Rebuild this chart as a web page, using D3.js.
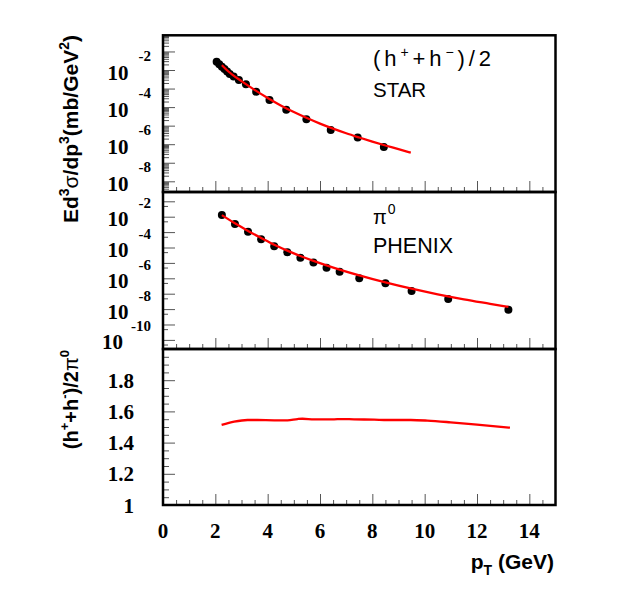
<!DOCTYPE html>
<html><head><meta charset="utf-8">
<script src="https://cdn.jsdelivr.net/npm/d3@7"></script>
<style>body{margin:0;background:#fff}</style>
</head><body>
<svg id="c" width="623" height="602"></svg>
<script>
// ---- data ----
const starPt  = [2.05, 2.15, 2.25, 2.35, 2.45, 2.55, 2.70, 2.90, 3.17, 3.56, 4.07, 4.71, 5.48, 6.41, 7.44, 8.44];
const starVal = [2.8e-2, 2.05e-2, 1.52e-2, 1.12e-2, 8.3e-3, 6.1e-3, 4.5e-3, 2.9e-3, 1.7e-3, 6.8e-4, 2.4e-4, 7.2e-5, 2.2e-5, 5.8e-6, 2.3e-6, 7.1e-7];
const starFitPt  = [2.25, 2.5, 3.0, 3.5, 4.0, 4.5, 5.0, 5.5, 6.0, 6.5, 7.0, 7.5, 8.0, 8.5, 9.0, 9.47];
const starFitVal = [1.82e-2, 8.3e-3, 2.51e-3, 8.5e-4, 3.1e-4, 1.23e-4, 5.4e-5, 2.57e-5, 1.29e-5, 6.9e-6, 3.9e-6, 2.3e-6, 1.38e-6, 8.5e-7, 5.4e-7, 3.5e-7];
const phenixPt  = [2.25, 2.75, 3.25, 3.75, 4.25, 4.75, 5.25, 5.75, 6.25, 6.75, 7.5, 8.5, 9.5, 10.9, 13.2];
const phenixVal = [1.29e-2, 3.4e-3, 1.07e-3, 3.4e-4, 1.2e-4, 4.9e-5, 2.19e-5, 1.07e-5, 4.9e-6, 2.7e-6, 1.0e-6, 4.7e-7, 1.48e-7, 4.6e-8, 9.1e-9];
const phenixFitPt  = [2.25, 2.75, 3.25, 3.75, 4.25, 4.75, 5.25, 5.75, 6.25, 6.75, 7.5, 8.5, 9.5, 10.5, 11.5, 12.5, 13.2];
const phenixFitVal = [1.26e-2, 3.7e-3, 1.2e-3, 4.2e-4, 1.51e-4, 6.3e-5, 2.8e-5, 1.35e-5, 6.9e-6, 3.7e-6, 1.55e-6, 5.4e-7, 2.1e-7, 9.1e-8, 4.3e-8, 2.2e-8, 1.38e-8];
const ratioPt  = [2.24, 2.72, 3.23, 3.61, 4.25, 4.76, 5.14, 5.33, 5.78, 6.54, 6.79, 7.30, 8.07, 8.58, 9.47, 10.1, 10.99, 12.0, 13.26];
const ratioVal = [1.513, 1.534, 1.545, 1.545, 1.543, 1.543, 1.551, 1.553, 1.549, 1.549, 1.551, 1.549, 1.547, 1.545, 1.545, 1.541, 1.530, 1.515, 1.496];
const xTickLabels = [0, 2, 4, 6, 8, 10, 12, 14];
const topExpLabels = [-2, -4, -6, -8];
const midExpLabels = [-2, -4, -6, -8, -10];
const ratioTickLabels = [1, 1.2, 1.4, 1.6, 1.8];

// ---- layout ----
const svg = d3.select("#c");
const L = 163, R = 555.5;
const P = [{t:35.3, b:192}, {t:192, b:349}, {t:349, b:505}];
const x = d3.scaleLinear().domain([0, 15]).range([L, R]);
const yTop = d3.scaleLog().domain([Math.pow(10,-8.577), Math.pow(10,-0.129)]).range([P[0].b, P[0].t]);
const yMid = d3.scaleLog().domain([Math.pow(10,-10.591), Math.pow(10,-0.396)]).range([P[1].b, P[1].t]);
const yRat = d3.scaleLinear().domain([1, 2]).range([P[2].b, P[2].t]);

const serif = "'Liberation Serif','Times New Roman',serif";
const sans = "'Liberation Sans',Arial,Helvetica,sans-serif";

function styleAxis(g){
  g.select(".domain").remove();
  g.selectAll(".tick line").attr("stroke", "#555").attr("stroke-width", 1);
}

// x ticks in each panel
const xMinor = d3.range(0.5, 15, 0.5).filter(v => v % 2 !== 0);
P.forEach(p => {
  svg.append("g").attr("transform", `translate(0,${p.b})`)
    .call(d3.axisBottom(x).tickValues(xTickLabels).tickSize(-11).tickFormat("")).call(styleAxis);
  svg.append("g").attr("transform", `translate(0,${p.b})`)
    .call(d3.axisBottom(x).tickValues(xMinor).tickSize(-5).tickFormat("")).call(styleAxis);
});

// y ticks top panel (log, minor 2..9)
const topMajor = d3.range(-8, 0).map(e => Math.pow(10, e));
const topMinor = [];
for (let e = -9; e <= -1; e++) for (let m = 2; m <= 9; m++) {
  const v = m * Math.pow(10, e);
  if (v >= yTop.domain()[0] && v <= yTop.domain()[1]) topMinor.push(v);
}
svg.append("g").attr("transform", `translate(${L},0)`)
  .call(d3.axisLeft(yTop).tickValues(topMajor).tickSize(-12).tickFormat("")).call(styleAxis);
svg.append("g").attr("transform", `translate(${L},0)`)
  .call(d3.axisLeft(yTop).tickValues(topMinor).tickSize(-6).tickFormat("")).call(styleAxis);

// y ticks middle panel (log, minor at 5)
const midMajor = d3.range(-10, 0).map(e => Math.pow(10, e));
const midMinor = d3.range(-11, 0).map(e => 5 * Math.pow(10, e)).filter(v => v >= yMid.domain()[0] && v <= yMid.domain()[1]);
svg.append("g").attr("transform", `translate(${L},0)`)
  .call(d3.axisLeft(yMid).tickValues(midMajor).tickSize(-12).tickFormat("")).call(styleAxis);
svg.append("g").attr("transform", `translate(${L},0)`)
  .call(d3.axisLeft(yMid).tickValues(midMinor).tickSize(-5).tickFormat("")).call(styleAxis);

// y ticks ratio panel
svg.append("g").attr("transform", `translate(${L},0)`)
  .call(d3.axisLeft(yRat).tickValues([1.2, 1.4, 1.6, 1.8]).tickSize(-12).tickFormat("")).call(styleAxis);
svg.append("g").attr("transform", `translate(${L},0)`)
  .call(d3.axisLeft(yRat).tickValues(d3.range(1.05, 2, 0.05).filter(v => Math.abs(v*5 - Math.round(v*5)) > 0.01)).tickSize(-6).tickFormat("")).call(styleAxis);

// frames
P.forEach(p => {
  svg.append("rect").attr("x", L).attr("y", p.t).attr("width", R - L).attr("height", p.b - p.t)
    .attr("fill", "none").attr("stroke", "#000").attr("stroke-width", 2.5);
});

// log tick labels
function expLabels(scale, exps, expDy){
  exps.forEach(e => {
    const yy = scale(Math.pow(10, e));
    const t = svg.append("text").attr("x", 151).attr("y", yy + 9.5)
      .attr("text-anchor", "end").attr("font-family", serif).attr("font-weight", "bold").attr("font-size", 21);
    t.append("tspan").text("10");
    t.append("tspan").attr("dx", e <= -10 ? 8 : 10).attr("dy", expDy).attr("font-size", 15).text("-" + Math.abs(e));
  });
}
expLabels(yTop, topExpLabels, -19);
expLabels(yMid, midExpLabels, -18);

// ratio tick labels
ratioTickLabels.forEach(v => {
  svg.append("text").attr("x", 134).attr("y", yRat(v) + 7.5).attr("text-anchor", "end")
    .attr("font-family", serif).attr("font-weight", "bold").attr("font-size", 21).text(v);
});
// x tick labels
xTickLabels.forEach(v => {
  svg.append("text").attr("x", x(v)).attr("y", 537.5).attr("text-anchor", "middle")
    .attr("font-family", serif).attr("font-weight", "bold").attr("font-size", 21).text(v);
});

// curves and points
const line = (xs, ys, sc) => d3.line().curve(d3.curveMonotoneX).x(d => x(d[0])).y(d => sc(d[1]))(d3.zip(xs, ys));
svg.append("g").selectAll("circle").data(d3.zip(starPt, starVal)).join("circle")
  .attr("cx", d => x(d[0])).attr("cy", d => yTop(d[1])).attr("r", 4).attr("fill", "#000");
svg.append("path").attr("d", line(starFitPt, starFitVal, yTop)).attr("fill", "none").attr("stroke", "#ff0000").attr("stroke-width", 2.3);
svg.append("g").selectAll("circle").data(d3.zip(phenixPt, phenixVal)).join("circle")
  .attr("cx", d => x(d[0])).attr("cy", d => yMid(d[1])).attr("r", 4).attr("fill", "#000");
svg.append("path").attr("d", line(phenixFitPt, phenixFitVal, yMid)).attr("fill", "none").attr("stroke", "#ff0000").attr("stroke-width", 2.3);
svg.append("path").attr("d", line(ratioPt, ratioVal, yRat)).attr("fill", "none").attr("stroke", "#ff0000").attr("stroke-width", 2.3);

// legends
const leg1 = svg.append("text").attr("x", 373).attr("y", 66).attr("font-family", sans).attr("font-size", 22)
  .attr("textLength", 118).attr("lengthAdjust", "spacing");
leg1.append("tspan").text("(h");
leg1.append("tspan").attr("dy", -9).attr("font-size", 14).text("+");
leg1.append("tspan").attr("dy", 9).text("+h");
leg1.append("tspan").attr("dy", -9).attr("font-size", 14).text("\u2212");
leg1.append("tspan").attr("dy", 9).text(")/2");
svg.append("text").attr("x", 373).attr("y", 97).attr("font-family", sans).attr("font-size", 20.5).text("STAR");
const leg2 = svg.append("text").attr("x", 373).attr("y", 224).attr("font-family", sans).attr("font-size", 20);
leg2.append("tspan").text("\u03c0");
leg2.append("tspan").attr("dy", -10).attr("font-size", 14).attr("dx", 1).text("0");
svg.append("text").attr("x", 373).attr("y", 252.5).attr("font-family", sans).attr("font-size", 21.5).text("PHENIX");

// axis titles
const t1 = svg.append("text").attr("transform", "translate(78,35) rotate(-90)").attr("text-anchor", "end")
  .attr("font-family", sans).attr("font-weight", "bold").attr("font-size", 21);
t1.append("tspan").text("Ed");
t1.append("tspan").attr("dy", -9).attr("font-size", 14).text("3");
t1.append("tspan").attr("dy", 9).attr("font-weight", "normal").text("\u03c3");
t1.append("tspan").text("/dp");
t1.append("tspan").attr("dy", -9).attr("font-size", 14).text("3");
t1.append("tspan").attr("dy", 9).text("(mb/GeV");
t1.append("tspan").attr("dy", -9).attr("font-size", 14).text("2");
t1.append("tspan").attr("dy", 9).text(")");

const t2 = svg.append("text").attr("transform", "translate(78,350) rotate(-90)").attr("text-anchor", "end")
  .attr("font-family", sans).attr("font-weight", "bold").attr("font-size", 20);
t2.append("tspan").text("(h");
t2.append("tspan").attr("dy", -9).attr("font-size", 13).text("+");
t2.append("tspan").attr("dy", 9).text("+h");
t2.append("tspan").attr("dy", -9).attr("font-size", 13).text("-");
t2.append("tspan").attr("dy", 9).text(")/2");
t2.append("tspan").attr("font-weight", "normal").text("\u03c0");
t2.append("tspan").attr("dy", -9).attr("font-size", 13).text("0");

const t3 = svg.append("text").attr("x", 554).attr("y", 569).attr("text-anchor", "end")
  .attr("font-family", sans).attr("font-weight", "bold").attr("font-size", 21);
t3.append("tspan").text("p");
t3.append("tspan").attr("dy", 6).attr("font-size", 14).text("T");
t3.append("tspan").attr("dy", -6).text(" (GeV)");
</script>
</body></html>
